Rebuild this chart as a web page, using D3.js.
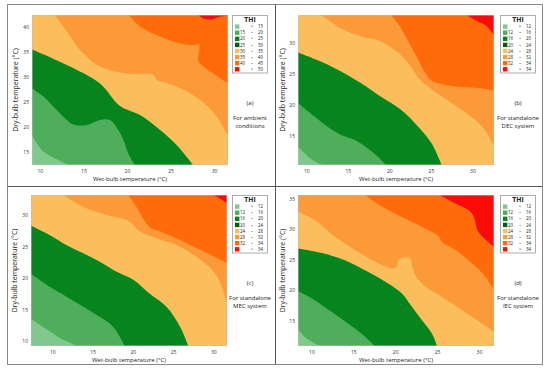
<!DOCTYPE html>
<html><head><meta charset="utf-8">
<script src="https://cdn.jsdelivr.net/npm/d3@7"></script>
<style>body{margin:0;background:#fff;} svg{display:block;}</style>
</head><body>
<svg id="chart" width="550" height="374"></svg>
<script>
// ---------------- data ----------------
const xTicks = [10, 15, 20, 25, 30];
const yTicksA = [15, 20, 25, 30, 35, 40];
const yTicksB = [15, 20, 25, 30];
const yTicksC = [10, 15, 20, 25, 30];
const yTicksD = [15, 20, 25, 30, 35];

const xDomainA = [9.1, 31.6],  yDomainA = [12.3, 42.3];
const xDomainB = [9.0, 32.6],  yDomainB = [10.2, 34.6];
const xDomainC = [7.35, 31.7], yDomainC = [9.2, 33.2];
const xDomainD = [8.4, 31.8],  yDomainD = [10.9, 35.6];

const bandColors   = ["#80c98c", "#4fae5b", "#06851f", "#fcbe5c", "#fc9a3a", "#ff6a0a", "#fb0a0a"];
const legendColors = ["#80c98c", "#4fae5b", "#06851f", "#005e16", "#fcbe5c", "#fc9a3a", "#ff6a0a", "#fb0a0a"];

const legendLabelsA = [["", "<", "15"], ["15", "–", "20"], ["20", "–", "25"], ["25", "–", "30"],
                       ["30", "–", "35"], ["35", "–", "40"], ["40", "–", "45"], ["", ">", "50"]];
const legendLabelsBCD = [["", "<", "12"], ["12", "–", "16"], ["16", "–", "20"], ["20", "–", "24"],
                         ["24", "–", "28"], ["28", "–", "32"], ["32", "–", "34"], ["", ">", "34"]];

// contour boundaries between successive THI bands: [wet-bulb °C, dry-bulb °C]
const boundariesA = [
  [[9.1,18.1],[10.4,15.0],[12.1,13.3],[13.3,12.3]],
  [[9.1,27.6],[10.4,26.0],[11.55,24.0],[12.9,21.6],[13.85,20.4],[15.4,20.3],[16.9,21.3],[18.05,21.3],[19.0,19.3],[19.6,17.3],[20.15,14.6],[20.9,12.3]],
  [[9.1,35.4],[13.1,32.3],[16.9,28.6],[19.2,24.1],[21.5,22.3],[23.8,19.3],[25.7,16.3],[27.6,12.3]],
  [[11.7,42.3],[13.1,39.0],[14.6,35.3],[16.9,32.0],[20.0,30.6],[23.0,30.3],[23.4,29.4],[25.7,28.0],[28.4,25.3],[30.3,22.0],[31.6,18.0]],
  [[20.2,42.3],[21.5,40.0],[23.8,38.0],[26.1,36.6],[27.8,36.3],[28.3,36.5],[28.3,35.3],[28.2,33.0],[28.8,32.0],[29.9,30.6],[31.6,28.6]],
  [[28.2,42.3],[28.8,41.6],[29.7,41.4],[30.7,42.0],[31.6,42.1]]
];
const boundariesB = [
  [[9.0,13.2],[10.2,11.6],[11.4,10.5],[12.2,10.2]],
  [[9.0,20.3],[11.0,18.1],[12.6,16.4],[14.2,15.1],[15.8,14.3],[17.4,12.9],[18.6,11.6],[19.6,10.2]],
  [[9.0,28.5],[11.8,27.0],[14.2,25.4],[16.6,23.5],[19.0,21.3],[21.4,19.2],[23.5,16.4],[25.1,13.7],[26.3,10.2]],
  [[11.8,34.6],[14.2,32.4],[16.6,31.1],[19.0,30.3],[21.1,28.4],[22.6,26.2],[23.6,24.2],[25.0,22.6],[27.5,20.3],[29.5,18.4],[31.5,15.9],[32.6,13.2]],
  [[20.2,34.6],[21.3,32.7],[22.4,30.0],[23.4,27.5],[24.2,25.5],[25.0,24.0],[26.5,23.3],[28.7,22.9],[31.0,22.7],[32.6,22.3]],
  [[29.3,34.6],[30.3,33.8],[31.5,33.0],[32.1,32.2],[32.6,31.35]]
];
const boundariesC = [
  [[7.35,13.55],[8.9,12.2],[10.1,11.2],[10.75,10.6],[12.4,9.6],[13.0,9.2]],
  [[7.35,20.7],[9.7,18.6],[11.8,17.0],[13.9,15.4],[15.9,13.8],[17.6,12.2],[19.0,9.2]],
  [[7.35,28.3],[9.7,26.8],[11.8,25.2],[13.9,23.9],[15.9,22.6],[18.0,21.0],[20.1,19.7],[22.1,17.5],[24.2,15.4],[25.9,12.2],[26.9,9.2]],
  [[11.4,33.2],[13.9,31.3],[16.8,30.0],[19.3,29.2],[20.9,27.4],[23.0,26.3],[25.5,25.2],[28.4,22.9],[30.5,20.2],[31.7,15.9]],
  [[19.45,33.2],[20.6,31.0],[21.5,29.0],[22.3,27.9],[23.8,27.2],[25.6,26.2],[27.5,25.0],[29.5,23.8],[31.7,22.4]],
  [[30.0,33.2],[30.8,32.66],[31.7,31.9]]
];
const boundariesD = [
  [[8.4,13.7],[9.2,12.4],[10.4,11.3],[11.2,10.9]],
  [[8.4,19.9],[10.4,18.4],[12.4,16.5],[14.4,14.55],[16.0,12.9],[17.55,10.9]],
  [[8.4,26.85],[11.6,26.0],[14.4,24.7],[16.8,23.0],[19.2,21.1],[20.8,19.5],[22.0,17.3],[23.2,15.1],[24.4,12.9],[25.0,10.9]],
  [[8.4,32.9],[10.4,31.5],[12.8,28.8],[15.2,26.6],[17.6,24.7],[19.6,23.6],[20.2,23.85],[20.4,25.0],[21.0,25.4],[21.8,25.2],[22.0,24.1],[22.2,23.3],[22.4,22.5],[23.2,21.1],[25.6,18.9],[28.0,16.75],[30.4,14.55],[31.8,13.2]],
  [[16.4,35.6],[18.4,33.7],[20.8,32.0],[23.2,30.4],[25.2,28.8],[25.6,27.9],[27.2,26.6],[29.2,24.4],[30.8,22.2],[31.8,20.0]],
  [[25.3,35.6],[27.2,34.2],[28.8,33.1],[29.4,32.0],[29.8,29.9],[30.4,28.8],[31.8,27.1]]
];

const panelTags = ["(a)", "(b)", "(c)", "(d)"];
const captionA = ["For ambient", "conditions"];
const captionB = ["For standalone", "DEC system"];
const captionC = ["For standalone", "MEC system"];
const captionD = ["For standalone", "IEC system"];
const xTitle = "Wet-bulb temperature (°C)";
const yTitle = "Dry-bulb temperature (°C)";
const legendTitle = "THI";

// ---------------- layout ----------------
const FONT = "'Open Sans', 'Noto Sans', sans-serif";
const svg = d3.select("#chart");

const panels = [
  {px: 32,  py: 15,  pw: 196, ph: 150, xD: xDomainA, yD: yDomainA, yT: yTicksA, bounds: boundariesA, leg: legendLabelsA,   lx: 232, tag: panelTags[0], cap: captionA, tx: 250, ytx: 16},
  {px: 298, py: 15,  pw: 196, ph: 150, xD: xDomainB, yD: yDomainB, yT: yTicksB, bounds: boundariesB, leg: legendLabelsBCD, lx: 500, tag: panelTags[1], cap: captionB, tx: 518, ytx: 283},
  {px: 31,  py: 195, pw: 196, ph: 151, xD: xDomainC, yD: yDomainC, yT: yTicksC, bounds: boundariesC, leg: legendLabelsBCD, lx: 232, tag: panelTags[2], cap: captionC, tx: 250, ytx: 15},
  {px: 298, py: 195, pw: 196, ph: 151, xD: xDomainD, yD: yDomainD, yT: yTicksD, bounds: boundariesD, leg: legendLabelsBCD, lx: 500, tag: panelTags[3], cap: captionD, tx: 518, ytx: 283}
];

// frame
svg.append("rect").attr("x", 7.5).attr("y", 4.5).attr("width", 535).attr("height", 360)
  .attr("fill", "none").attr("stroke", "#8a8a8a").attr("stroke-width", 1);
svg.append("line").attr("x1", 275.5).attr("x2", 275.5).attr("y1", 4.5).attr("y2", 364.5)
  .attr("stroke", "#555").attr("stroke-width", 1);
svg.append("line").attr("x1", 7.5).attr("x2", 542.5).attr("y1", 186.5).attr("y2", 186.5)
  .attr("stroke", "#555").attr("stroke-width", 1);

const defs = svg.append("defs");

panels.forEach((p, pi) => {
  const g = svg.append("g");
  const x = d3.scaleLinear().domain(p.xD).range([p.px, p.px + p.pw]);
  const y = d3.scaleLinear().domain(p.yD).range([p.py + p.ph, p.py]);

  const clipId = "clip" + pi;
  defs.append("clipPath").attr("id", clipId).append("rect")
    .attr("x", p.px).attr("y", p.py).attr("width", p.pw).attr("height", p.ph);

  const plot = g.append("g").attr("clip-path", `url(#${clipId})`);
  plot.append("rect").attr("x", p.px).attr("y", p.py).attr("width", p.pw).attr("height", p.ph)
    .attr("fill", bandColors[0]);

  const line = d3.line().x(d => x(d[0])).y(d => y(d[1])).curve(d3.curveCatmullRom.alpha(0.5));
  const [r0, r1] = x.range();
  const [bt, tp] = y.range();
  const far = 40;
  p.bounds.forEach((b, i) => {
    const d = line(b) + `L${r1 + far},${bt + far}L${r1 + far},${tp - far}L${r0 - far},${tp - far}Z`;
    plot.append("path").attr("d", d).attr("fill", bandColors[i + 1]);
  });

  g.append("rect").attr("x", p.px + 0.25).attr("y", p.py + 0.25).attr("width", p.pw - 0.5).attr("height", p.ph - 0.5)
    .attr("fill", "none").attr("stroke", "#bdbdbd").attr("stroke-width", 0.5);

  // axes
  const ax = g.append("g").attr("transform", `translate(0,${p.py + p.ph})`)
    .call(d3.axisBottom(x).tickValues(xTicks).tickSize(0).tickPadding(4));
  const ay = g.append("g").attr("transform", `translate(${p.px},0)`)
    .call(d3.axisLeft(y).tickValues(p.yT).tickSize(0).tickPadding(3));
  [ax, ay].forEach(a => {
    a.select(".domain").remove();
    a.selectAll("text").attr("font-family", FONT).attr("font-size", 5).attr("fill", "#333");
  });

  g.append("text").attr("x", p.px + p.pw / 2).attr("y", p.py + p.ph + 15.5)
    .attr("text-anchor", "middle").attr("font-family", FONT).attr("font-size", 6).attr("fill", "#222")
    .text(xTitle);
  g.append("text").attr("transform", `translate(${p.ytx + 2},${p.py + p.ph / 2}) rotate(-90)`)
    .attr("text-anchor", "middle").attr("font-family", FONT).attr("font-size", 6.9).attr("fill", "#222")
    .text(yTitle);

  // legend
  const lg = g.append("g").attr("transform", `translate(${p.lx},${p.py})`);
  lg.append("rect").attr("x", 0.5).attr("y", 0.5).attr("width", 35).attr("height", 57.5)
    .attr("fill", "#fff").attr("stroke", "#999").attr("stroke-width", 0.8);
  lg.append("text").attr("x", 18).attr("y", 6.8).attr("text-anchor", "middle")
    .attr("font-family", FONT).attr("font-size", 6.8).attr("font-weight", "bold").attr("fill", "#222")
    .text(legendTitle);
  p.leg.forEach((row, i) => {
    const cy = 11.6 + i * 6.1;
    lg.append("rect").attr("x", 3).attr("y", cy - 2.2).attr("width", 4.4).attr("height", 4.4)
      .attr("fill", legendColors[i]);
    const t = [[row[0], 13, "end"], [row[1], 20, "middle"], [row[2], 31, "end"]];
    t.forEach(([s, tx, anc]) => {
      if (!s) return;
      lg.append("text").attr("x", tx).attr("y", cy + 1.6).attr("text-anchor", anc)
        .attr("font-family", FONT).attr("font-size", 4.4).attr("fill", "#222").text(s);
    });
  });

  // captions
  g.append("text").attr("x", p.tx).attr("y", p.py + 89.5).attr("text-anchor", "middle")
    .attr("font-family", FONT).attr("font-size", 6).attr("fill", "#222").text(p.tag);
  p.cap.forEach((c, i) => {
    g.append("text").attr("x", p.tx).attr("y", p.py + 104.5 + i * 8.5).attr("text-anchor", "middle")
      .attr("font-family", FONT).attr("font-size", 6).attr("fill", "#222").text(c);
  });
});
</script>
</body></html>
